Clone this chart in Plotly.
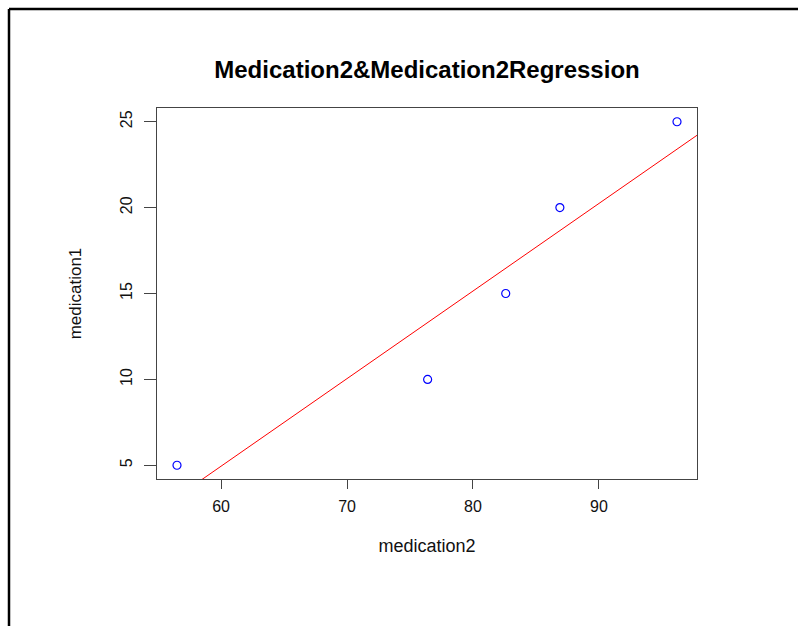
import numpy as np
import plotly.graph_objects as go

# Observations
medication2 = [56.5, 76.4, 82.6, 86.9, 96.2]
medication1 = [5, 10, 15, 20, 25]

x_ticks = [60, 70, 80, 90]
y_ticks = [5, 10, 15, 20, 25]

# Least-squares fit of medication1 on medication2
slope, intercept = np.polyfit(medication2, medication1, 1)

# R-style axis limits: data range padded by 4% on each side
def padded(vals, frac=0.04):
    lo, hi = min(vals), max(vals)
    d = (hi - lo) * frac
    return [lo - d, hi + d]

xr = padded(medication2)
yr = padded(medication1)

W, H = 798, 626
ml, mr, mt, mb = 157, 101, 108, 147
pw, ph = W - ml - mr, H - mt - mb

def px_x(p):
    return (p - ml) / pw

def px_y(p):
    return (H - mb - p) / ph

fig = go.Figure()

# Regression line across the full plotting region
line_x = np.array(xr)
fig.add_trace(go.Scatter(
    x=line_x, y=intercept + slope * line_x,
    mode="lines", line=dict(color="#ff0000", width=1),
    hoverinfo="skip", showlegend=False,
))

fig.add_trace(go.Scatter(
    x=medication2, y=medication1, mode="markers",
    marker=dict(symbol="circle-open", size=8, color="#0000ff",
                line=dict(width=1.2, color="#0000ff")),
    showlegend=False,
))

axis_common = dict(
    showgrid=False, zeroline=False, showline=True, mirror=True,
    linecolor="#444444", linewidth=1, ticks="outside", tickcolor="#444444",
    tickfont=dict(family="Liberation Sans", size=16, color="#111111"),
)

fig.update_layout(
    width=W, height=H,
    margin=dict(l=ml, r=mr, t=mt, b=mb, autoexpand=False),
    paper_bgcolor="white", plot_bgcolor="white",
    title=dict(
        text="<b>Medication2&Medication2Regression</b>",
        x=(ml + pw / 2) / W, xanchor="center",
        y=1 - 70 / H, yanchor="middle",
        font=dict(family="Liberation Sans", size=24, color="#000000"),
    ),
    xaxis=dict(
        range=xr, tickvals=x_ticks, ticklen=9, ticklabelstandoff=4,
        title=dict(text="medication2", standoff=25,
                   font=dict(family="Liberation Sans", size=18, color="#111111")),
        **axis_common,
    ),
    yaxis=dict(
        range=yr, tickvals=y_ticks, ticklen=12, tickangle=-90,
        ticklabelstandoff=6,
        title=dict(text="medication1", standoff=31,
                   font=dict(family="Liberation Sans", size=17, color="#111111")),
        **axis_common,
    ),
    shapes=[
        # outer frame (top and left edges visible in the window)
        dict(type="line", xref="paper", yref="paper",
             x0=px_x(9), y0=px_y(9), x1=px_x(W + 10), y1=px_y(9),
             line=dict(color="black", width=2.5)),
        dict(type="line", xref="paper", yref="paper",
             x0=px_x(9), y0=px_y(9), x1=px_x(9), y1=px_y(H + 10),
             line=dict(color="black", width=2.5)),
    ],
)

fig.write_html("out.html")
